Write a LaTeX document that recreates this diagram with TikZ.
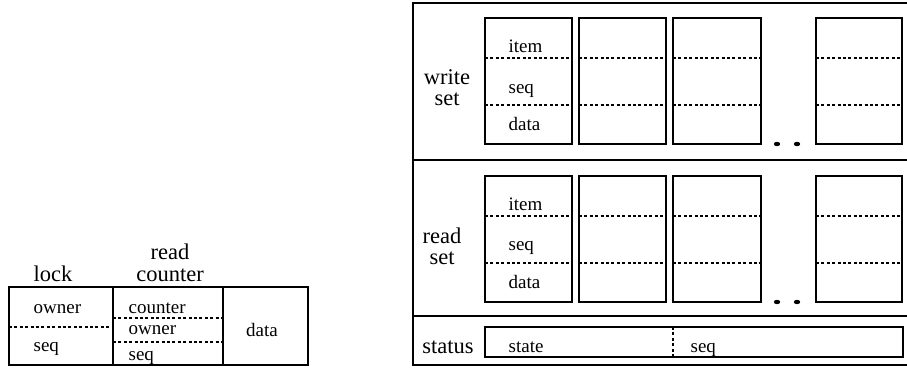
\documentclass[tikz,border=0pt]{standalone}
\usepackage{fontspec}
\setmainfont{Liberation Serif}
\begin{document}
\begin{tikzpicture}[x = 1pt, y = -1pt, line width = 1.3pt,
  big/.style = {font = \fontsize{22.5}{21}\selectfont, align = center, inner sep = 0pt},
  small/.style = {font = \fontsize{19}{20}\selectfont, inner sep = 0pt, anchor = base west},
  dots/.style = {line width = 1.4pt, dash pattern = on 3pt off 2.4pt}]
  \useasboundingbox (0, 0) rectangle (907, 367);

  % left: lock, read counter, data
  \draw (9, 287) rectangle (308, 365);
  \draw (113, 287) -- (113, 365);
  \draw (223, 287) -- (223, 365);
  \draw[dots] (9, 327) -- (113, 327);
  \draw[dots] (113, 318) -- (223, 318);
  \draw[dots] (113, 342) -- (223, 342);
  \node[big, anchor = south] (lock) at (53, 282) {lock};
  \node[big, anchor = south, font = \fontsize{22.5}{22}\selectfont] (readcounter) at (170, 282) {read\\counter};
  \node[small] (lockowner) at (33, 313) {owner};
  \node[small] (lockseq) at (33, 351) {seq};
  \node[small] (counter) at (128, 313) {counter};
  \node[small] (rcowner) at (128, 334) {owner};
  \node[small] (rcseq) at (128, 360) {seq};
  \node[small, anchor = base] (data) at (262, 336) {data};

  % right: write set, read set, status
  \draw[line width = 1.5pt] (413, 3) rectangle (915, 365);
  \draw[line width = 1.5pt] (413, 160) -- (915, 160);
  \draw[line width = 1.5pt] (413, 316) -- (915, 316);
  \foreach \y in {0, 158} {
    \foreach \a/\b in {485/572, 579/666, 673/761, 816/902} {
      \draw (\a, 18 + \y) rectangle (\b, 144 + \y);
      \draw[dots] (\a, 58 + \y) -- (\b, 58 + \y) (\a, 105 + \y) -- (\b, 105 + \y);
    }
    \fill (777, 144 + \y) ellipse (3.2 and 2.2);
    \fill (797, 144 + \y) ellipse (3.2 and 2.2);
  }
  \draw (485, 327) rectangle (903, 357);
  \draw[dots] (673, 327) -- (673, 357);

  \node[big, anchor = south] (writeset) at (447, 106) {write\\set};
  \node[big, anchor = south] (readset) at (442, 265) {read\\set};
  \node[big, anchor = base] (status) at (448, 353) {status};
  \node[small] (witem) at (508, 52) {item};
  \node[small] (wseq) at (508, 93) {seq};
  \node[small] (wdata) at (508, 130) {data};
  \node[small] (ritem) at (508, 210) {item};
  \node[small] (rseq) at (508, 250) {seq};
  \node[small] (rdata) at (508, 288) {data};
  \node[small] (state) at (508, 352) {state};
  \node[small] (sseq) at (690, 352) {seq};
\end{tikzpicture}
\end{document}
